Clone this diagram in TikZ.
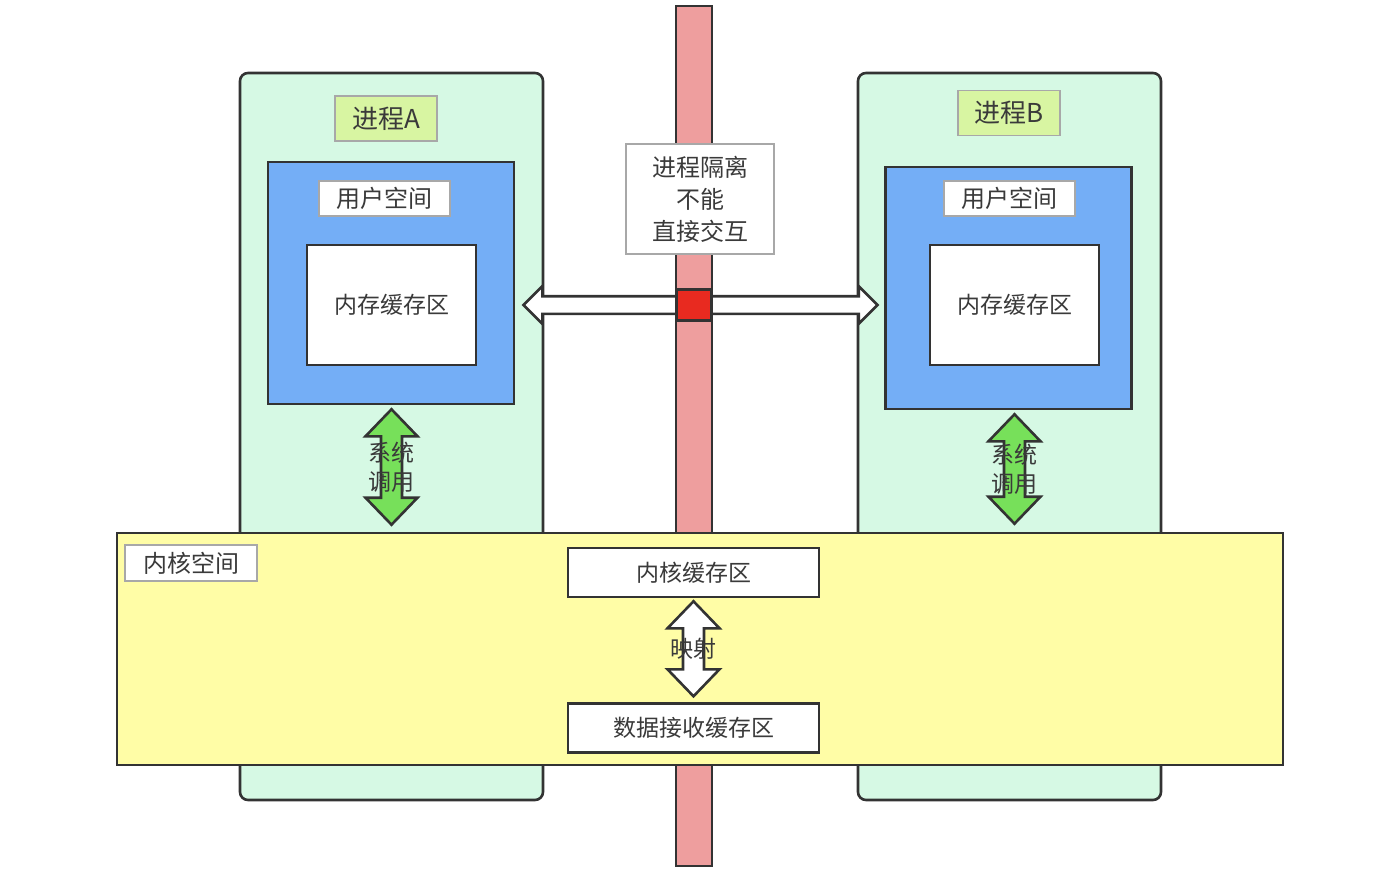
\documentclass[tikz,border=0pt]{standalone}
\usepackage{fontspec}
\setmainfont{Noto Sans CJK SC}
\usepackage{tikz}
\usetikzlibrary{shapes.arrows, positioning, calc}
\definecolor{ProcMint}{HTML}{D6F9E4}
\definecolor{UserBlue}{HTML}{74AEF6}
\definecolor{KernelYellow}{HTML}{FFFDA6}
\definecolor{WallPink}{HTML}{EE9E9E}
\definecolor{BlockRed}{HTML}{E82A20}
\definecolor{CallGreen}{HTML}{77E05A}
\definecolor{TagGreen}{HTML}{D8F5A2}
\definecolor{EdgeGray}{HTML}{333333}
\definecolor{LineGray}{HTML}{A8A8A8}
\definecolor{TextGray}{HTML}{3A3A3A}
\tikzset{
  procbox/.style={rectangle, rounded corners=4pt, draw=EdgeGray, line width=1.3pt, fill=ProcMint, minimum width=151.5pt, minimum height=363.5pt},
  kernelbox/.style={rectangle, draw=EdgeGray, line width=1.3pt, fill=KernelYellow, minimum width=583pt, minimum height=116pt},
  userbox/.style={rectangle, draw=EdgeGray, line width=1.3pt, fill=UserBlue, minimum width=123pt, minimum height=121pt},
  wallbox/.style={rectangle, draw=EdgeGray, line width=1.3pt, fill=WallPink, minimum width=18pt, minimum height=430pt},
  blockbox/.style={rectangle, draw=EdgeGray, line width=1.3pt, fill=BlockRed, minimum width=17.5pt, minimum height=15.5pt},
  tagbox/.style={rectangle, draw=LineGray, line width=0.6pt, fill=white, text=TextGray, inner sep=0pt, font=\fontsize{12}{14.5}\selectfont},
  proctag/.style={tagbox, fill=TagGreen, minimum width=51pt, minimum height=22.5pt, font=\fontsize{13}{15}\selectfont},
  bufbox/.style={rectangle, draw=EdgeGray, line width=1.3pt, fill=white, text=TextGray, inner sep=0pt, font=\fontsize{11.5}{14}\selectfont},
  notebox/.style={tagbox, align=center, minimum width=74pt, minimum height=55pt, font=\fontsize{12}{16}\selectfont},
  arrowtext/.style={text=TextGray, align=center, inner sep=0pt, font=\fontsize{11.5}{14.5}\selectfont},
  callarrow/.style={draw=EdgeGray, line width=1.3pt, fill=CallGreen, line join=miter},
  maparrow/.style={callarrow, fill=white},
  linkarrow/.style={double arrow, draw=EdgeGray, line width=1.3pt, fill=white, inner xsep=0pt, inner ysep=3.75pt, double arrow head extend=5pt, double arrow tip angle=90, minimum width=17.5pt}
}
% vertical block arrow from tip #2 down to tip #3
\newcommand\vblockarrow[3]{%
  \draw[#1] let \p1=(#2), \p2=(#3) in
    (\x1,\y1) -- (\x1+13pt,\y1-13.5pt) -- (\x1+5.25pt,\y1-13.5pt)
    -- (\x1+5.25pt,\y2+13.5pt) -- (\x1+13pt,\y2+13.5pt) -- (\x1,\y2)
    -- (\x1-13pt,\y2+13.5pt) -- (\x1-5.25pt,\y2+13.5pt)
    -- (\x1-5.25pt,\y1-13.5pt) -- (\x1-13pt,\y1-13.5pt) -- cycle;
}

\begin{document}
\begin{tikzpicture}[x=0.5pt, y=-0.5pt]
  \useasboundingbox (0,0) rectangle (1378,872);

  % two processes and the wall between them
  \node[procbox] (procA) at (391.5,436.5) {};
  \node[procbox] (procB) at (1009.5,436.5) {};
  \node[wallbox] (wall) at (694,436) {};

  \node[proctag] (tagA) at (386,118.5) {进程A};
  \node[proctag] (tagB) at (1009,113) {进程B};

  \node[userbox] (userA) at (391,283) {};
  \node[userbox] (userB) at (1008.5,288) {};
  \node[tagbox, minimum width=65.5pt, minimum height=17.5pt] (uspA) at (384.5,198.5) {用户空间};
  \node[tagbox, minimum width=65.5pt, minimum height=17.5pt] (uspB) at (1009.5,198.5) {用户空间};
  \node[bufbox, minimum width=84.5pt, minimum height=60pt] (memA) at (391.5,305) {内存缓存区};
  \node[bufbox, minimum width=84.5pt, minimum height=60pt] (memB) at (1014.5,305) {内存缓存区};

  \node[notebox] (note) at (700,199) {进程隔离\\不能\\直接交互};
  \path (procA.east |- memA) -- (procB.west |- memA)
    node[linkarrow, midway, minimum height=177pt] (link) {};
  \node[blockbox] (block) at (wall |- link) {};

  % kernel space
  \node[kernelbox] (kernel) at (700,649) {};
  \node[tagbox, minimum width=66pt, minimum height=18pt] (ksp) at (191,563) {内核空间};
  \node[bufbox, minimum width=125.5pt, minimum height=24.5pt] (kbuf) at (693.5,572.5) {内核缓存区};
  \node[bufbox, minimum width=125.5pt, minimum height=24.5pt, below=52pt of kbuf] (rbuf) {数据接收缓存区};

  % system calls and mapping
  \coordinate (callAtop) at ($(memA |- userA.south)+(0,4)$);
  \coordinate (callAbot) at ($(memA |- kernel.north)+(0,-7)$);
  \coordinate (callBtop) at ($(memB |- userB.south)+(0,4)$);
  \coordinate (callBbot) at ($(memB |- kernel.north)+(0,-8)$);
  \coordinate (maptop) at ($(kbuf.south)+(0,3)$);
  \coordinate (mapbot) at ($(rbuf.north)+(0,-6)$);
  \vblockarrow{callarrow}{callAtop}{callAbot}
  \vblockarrow{callarrow}{callBtop}{callBbot}
  \vblockarrow{maparrow}{maptop}{mapbot}
  \node[arrowtext] (callAtext) at ($(callAtop)!.5!(callAbot)$) {系统\\调用};
  \node[arrowtext] (callBtext) at ($(callBtop)!.5!(callBbot)$) {系统\\调用};
  \node[arrowtext] (maptext) at ($(maptop)!.5!(mapbot)$) {映射};
\end{tikzpicture}
\end{document}
